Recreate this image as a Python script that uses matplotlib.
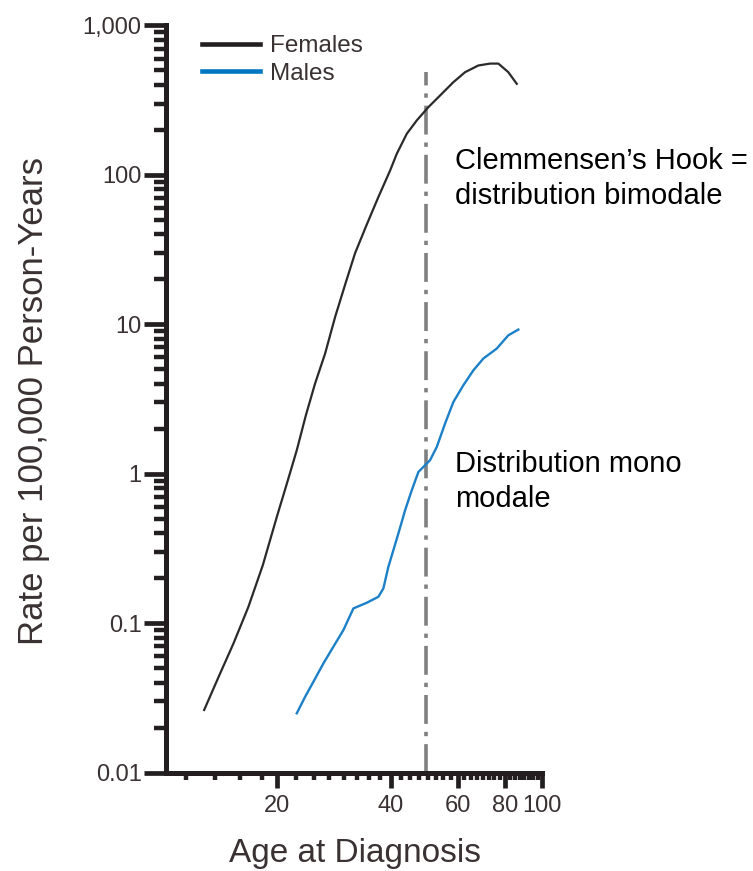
import numpy as np
import matplotlib
matplotlib.use("Agg")
import matplotlib.pyplot as plt
from matplotlib.lines import Line2D
from matplotlib.ticker import LogLocator, NullFormatter, FixedFormatter

# Age-specific incidence rates (per 100,000 person-years)
female_age = [12.86, 14.11, 15.37, 16.83, 18.37, 20.0, 21.26, 22.58, 23.86, 25.23,
              26.82, 28.50, 30.28, 32.17, 34.54, 37.07, 39.81, 41.46, 44.06, 46.81,
              50.22, 53.93, 58.47, 62.78, 68.05, 73.07, 76.84, 81.65, 85.94]
female_rate = [0.0262, 0.0449, 0.0731, 0.1286, 0.2443, 0.514, 0.859, 1.437, 2.46, 4.01,
               6.37, 11.19, 18.4, 29.9, 46.5, 71.1, 107, 138.6, 188.6, 231.6,
               284, 340, 417.6, 487, 540, 556, 556, 487, 407]

male_age = [22.58, 23.75, 24.98, 26.54, 28.20, 29.97, 31.85, 34.54, 37.07, 38.21,
            39.39, 40.61, 41.86, 43.61, 45.42, 47.28, 50.74, 52.86, 55.59, 58.47,
            62.13, 66.02, 70.15, 76.10, 81.65, 86.77]
male_rate = [0.0249, 0.0321, 0.0405, 0.0537, 0.0695, 0.0898, 0.1254, 0.1368, 0.150, 0.1706,
             0.238, 0.308, 0.398, 0.570, 0.776, 1.028, 1.231, 1.511, 2.167, 3.02,
             3.91, 4.92, 5.90, 6.88, 8.44, 9.22]

series_labels = ["Females", "Males"]

# Reference line at the age of the "hook"
hook_age = 49.5
hook_top = 490

x_major = [20, 40, 60, 80, 100]
x_major_labels = ["20", "40", "60", "80", "100"]
x_minor = [11.5, 13.75, 16.0, 18.25] + [a for a in np.arange(22.5, 100, 2.5) if a % 20 != 0]
y_major = [0.01, 0.1, 1, 10, 100, 1000]
y_major_labels = ["0.01", "0.1", "1", "10", "100", "1,000"]

INK = "#231f20"
LABEL = "#3a3232"
FEMALE = "#2a2a2a"
MALE = "#1c80c8"
MALE_KEY = "#0077c0"

plt.rcParams["font.family"] = ["Liberation Sans", "DejaVu Sans"]

W, H = 753, 871
fig = plt.figure(figsize=(W / 100, H / 100), dpi=100)


def fx(px):
    return px / W


def fy(py):
    return 1 - py / H


ax = fig.add_axes([fx(166), fy(772.5), fx(541.7 - 166), (772.5 - 25.5) / H])
ax.set_xscale("log")
ax.set_yscale("log")
ax.set_xlim(10.2, 100)
ax.set_ylim(0.01, 1000)

ax.plot([hook_age, hook_age], [0.01, hook_top], color="#808080", lw=2.6,
        linestyle=(0, (8, 2.2, 1.2, 2.2)), zorder=1)
ax.plot(female_age, female_rate, color=FEMALE, lw=1.6, zorder=3)
ax.plot(male_age, male_rate, color=MALE, lw=1.7, zorder=3)

for side in ("top", "right"):
    ax.spines[side].set_visible(False)
for side in ("left", "bottom"):
    ax.spines[side].set_linewidth(3.6)
    ax.spines[side].set_color(INK)

ax.set_xticks(x_major)
ax.xaxis.set_major_formatter(FixedFormatter(x_major_labels))
ax.set_xticks(x_minor, minor=True)
ax.xaxis.set_minor_formatter(NullFormatter())

ax.set_yticks(y_major)
ax.yaxis.set_major_formatter(FixedFormatter(y_major_labels))
ax.yaxis.set_minor_locator(LogLocator(base=10, subs=range(2, 10)))
ax.yaxis.set_minor_formatter(NullFormatter())

ax.tick_params(axis="y", which="major", length=15.5, width=3.4, pad=2,
               color=INK, labelcolor=LABEL, labelsize=17)
ax.tick_params(axis="y", which="minor", length=9, width=3.2, color=INK)
ax.tick_params(axis="x", which="major", length=11, width=3.4, pad=5,
               color=INK, labelcolor=LABEL, labelsize=17)
ax.tick_params(axis="x", which="minor", length=4.7, width=3.2, color=INK)

# Legend keys drawn thicker than the curves
keys = [Line2D([], [], color=INK, lw=3.3), Line2D([], [], color=MALE_KEY, lw=3.3)]
fig.legend(keys, series_labels, loc="upper left",
           bbox_to_anchor=(fx(202), fy(35)), bbox_transform=fig.transFigure,
           frameon=False, fontsize=17.5, labelcolor=LABEL, borderpad=0,
           borderaxespad=0, handlelength=2.39, handletextpad=0.41,
           labelspacing=0.24)

# Multi-line notes are anchored on the baseline of their last line
fig.text(fx(455), fy(204), "Clemmensen\u2019s Hook =\ndistribution bimodale",
         fontsize=21, color="black", ha="left", va="baseline", linespacing=1.3)
fig.text(fx(455), fy(507), "Distribution mono\nmodale",
         fontsize=21, color="black", ha="left", va="baseline", linespacing=1.3)

fig.text(fx(355), fy(862), "Age at Diagnosis", fontsize=24, color=LABEL,
         ha="center", va="baseline")
fig.text(fx(34), fy(401), "Rate per 100,000 Person-Years", fontsize=25, color=LABEL,
         rotation=90, ha="center", va="center")

fig.savefig("out.png", dpi=100)
